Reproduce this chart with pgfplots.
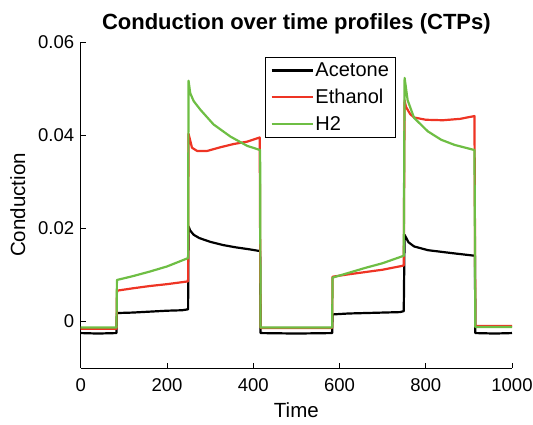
\documentclass[border=0pt]{standalone}
\usepackage{pgfplots}
\pgfplotsset{compat=1.18}
\usepackage{fontspec}
\setmainfont{Liberation Sans}
\definecolor{cred}{RGB}{238,52,36}
\definecolor{cgreen}{RGB}{110,190,68}
\begin{document}
\begin{tikzpicture}
\path[use as bounding box] (-80.7pt,-57pt) rectangle (452.3pt,368pt);
\begin{axis}[
  scale only axis,
  width=431.3pt, height=326pt,
  at={(0,0)}, anchor=south west,
  xmin=0, xmax=1000, ymin=-0.01, ymax=0.06,
  axis x line*=bottom, axis y line*=left,
  axis line style={-, line width=0.9pt},
  tick align=inside, major tick length=5pt,
  tick style={black, line width=0.9pt},
  xtick={0,200,400,600,800,1000},
  xticklabels={0,200,400,600,800,1000},
  ytick={0,0.02,0.04,0.06},
  yticklabels={0,0.02,0.04,0.06},
  scaled y ticks=false,
  /pgf/number format/assume math mode=true,
  ticklabel style={font=\fontsize{18.5}{21}\selectfont},
  yticklabel style={xshift=-3pt},
  xticklabel style={yshift=-7pt},
  xlabel={Time}, ylabel={Conduction},
  label style={font=\fontsize{20.5}{23}\selectfont},
  xlabel style={yshift=-4pt},
  ylabel style={yshift=6pt},
  title={\textbf{Conduction over time profiles (CTPs)}},
  title style={font=\fontsize{22}{24}\selectfont, yshift=-2pt},
  legend style={at={(0.4273,0.954)}, anchor=north west, draw=black, line width=0.8pt,
    font=\fontsize{20}{22}\selectfont, row sep=8pt, inner xsep=5pt, inner ysep=4pt,
    nodes={inner sep=1.5pt}},
  legend cell align=left,
  legend image code/.code={\draw[#1, line width=2.6pt] (0pt,0pt) -- (41pt,0pt);},
  every axis plot/.append style={line width=2.2pt, line join=round},
]
\addplot[black] coordinates {
(0,-0.0025) (40,-0.0026) (83,-0.0025) (84,0.0018) (120,0.0019) (160,0.0021) (200,0.0023) (235,0.0024) (249,0.0026)
(250,0.0204) (254,0.0195) (262,0.0186) (275,0.0179) (300,0.0171) (330,0.0164) (360,0.0159) (390,0.0155) (416,0.0151)
(417,-0.0025) (500,-0.0026) (583,-0.0025) (584,0.0015) (620,0.0017) (660,0.0018) (700,0.0019) (740,0.0020) (749,0.0022)
(751,0.0186) (760,0.0170) (773,0.0161) (805,0.0153) (840,0.0149) (867,0.0146) (914,0.0141)
(915,-0.0025) (960,-0.0026) (1000,-0.0025)
};
\addlegendentry{Acetone}
\addplot[cred] coordinates {
(0,-0.0016) (83,-0.0016) (84,0.0066) (120,0.0071) (160,0.0076) (200,0.0080) (249,0.0086)
(250,0.0403) (258,0.0373) (270,0.0366) (293,0.0366) (324,0.0374) (355,0.0381) (386,0.0386) (415,0.0395)
(417,-0.0014) (583,-0.0014) (584,0.0096) (620,0.0101) (660,0.0106) (700,0.0111) (749,0.0120)
(751,0.0475) (754,0.0461) (764,0.0445) (773,0.0438) (800,0.0433) (840,0.0432) (880,0.0435) (913,0.0441)
(915,-0.0010) (1000,-0.0010)
};
\addlegendentry{Ethanol}
\addplot[cgreen] coordinates {
(0,-0.0013) (83,-0.0013) (84,0.0089) (120,0.0097) (160,0.0107) (200,0.0118) (249,0.0136)
(250,0.0517) (254,0.0490) (262,0.0473) (278,0.0454) (308,0.0423) (347,0.0397) (386,0.0377) (416,0.0368)
(417,-0.0013) (583,-0.0013) (584,0.0094) (620,0.0104) (660,0.0115) (700,0.0125) (749,0.0141)
(751,0.0523) (758,0.0475) (773,0.0437) (805,0.0408) (836,0.0390) (867,0.0379) (913,0.0368)
(915,-0.0012) (1000,-0.0012)
};
\addlegendentry{H2}
\end{axis}
\end{tikzpicture}
\end{document}
